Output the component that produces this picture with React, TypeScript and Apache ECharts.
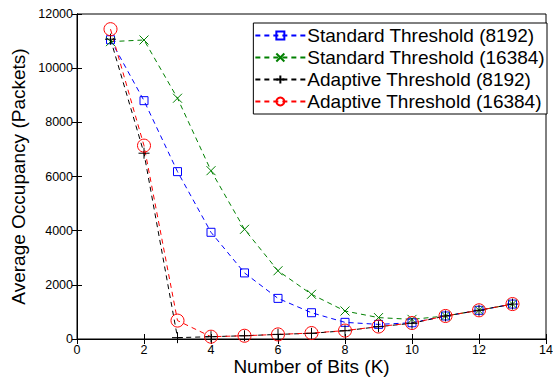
import React, { useEffect, useRef } from "react";
import * as echarts from "echarts";

const bits = [1, 2, 3, 4, 5, 6, 7, 8, 9, 10, 11, 12, 13];
const std8192 = [11050, 8800, 6180, 3940, 2440, 1500, 970, 615, 540, 600, 850, 1060, 1290];
const std16384 = [10980, 11040, 8890, 6215, 4050, 2520, 1650, 1034, 790, 725, 850, 1060, 1290];
const ada8192 = [11070, 6860, 50, 85, 120, 170, 210, 305, 455, 580, 850, 1060, 1290];
const ada16384 = [11440, 7140, 680, 85, 120, 170, 220, 310, 460, 590, 850, 1060, 1290];
const seriesNames = [
  "Standard Threshold (8192)",
  "Standard Threshold (16384)",
  "Adaptive Threshold (8192)",
  "Adaptive Threshold (16384)",
];

const FONT = "Liberation Sans, Arial, sans-serif";
const XSYM = "path://M0,0L10,10M10,0L0,10";
const PSYM = "path://M5,0L5,10M0,5L10,5";

export default function App() {
  const ref = useRef<HTMLDivElement>(null);
  useEffect(() => {
    if (!ref.current) return;
    const chart = echarts.init(ref.current, null, { renderer: "svg" });
    const mk = (name: string, data: number[], color: string, symbol: string, size: number) => ({
      name,
      type: "line",
      data: bits.map((b, i) => [b, data[i]]),
      symbol,
      symbolSize: size,
      showSymbol: true,
      lineStyle: { color, width: 1, type: [5, 4] },
      itemStyle: { color: "rgba(0,0,0,0)", borderColor: color, borderWidth: 1 },
      emphasis: { disabled: true },
    });
    chart.setOption({
      animation: false,
      textStyle: { fontFamily: FONT },
      grid: {
        left: 77, right: 7, top: 14, bottom: 38,
        show: true, borderColor: "#000", borderWidth: 1,
        outerBoundsMode: "none", containLabel: false,
      },
      legend: {
        right: 6,
        top: 23,
        orient: "vertical",
        itemWidth: 50,
        itemHeight: 10,
        itemGap: 3,
        padding: [3, 2, 3, 1],
        borderColor: "#000",
        borderWidth: 1,
        backgroundColor: "#fff",
        textStyle: { fontSize: 19, color: "#000", fontFamily: FONT, padding: [0, 0, 0, -3] },
        data: seriesNames,
      },
      xAxis: [
        {
          type: "value",
          min: 0,
          max: 14,
          interval: 2,
          name: "Number of Bits (K)",
          nameLocation: "middle",
          nameGap: 18,
          nameMoveOverlap: false,
          nameTextStyle: { fontSize: 19, color: "#000" },
          axisLine: { lineStyle: { color: "#000" } },
          axisTick: { inside: true, length: 5, lineStyle: { color: "#000" } },
          axisLabel: { fontSize: 12.5, color: "#000", margin: 4 },
          splitLine: { show: false },
        },
        {
          type: "value",
          position: "top",
          min: 0,
          max: 14,
          interval: 2,
          axisLine: { lineStyle: { color: "#000" } },
          axisTick: { inside: true, length: 5, lineStyle: { color: "#000" } },
          axisLabel: { show: false },
          splitLine: { show: false },
        },
      ],
      yAxis: [
        {
          type: "value",
          min: 0,
          max: 12000,
          interval: 2000,
          name: "Average Occupancy (Packets)",
          nameLocation: "middle",
          nameGap: 49,
          nameMoveOverlap: false,
          nameTextStyle: { fontSize: 19, color: "#000" },
          axisLine: { show: true, lineStyle: { color: "#000" } },
          axisTick: { show: true, inside: true, length: 5, lineStyle: { color: "#000" } },
          axisLabel: { fontSize: 12.5, color: "#000", margin: 4, formatter: (v: number) => String(v) },
          splitLine: { show: false },
        },
        {
          type: "value",
          position: "right",
          min: 0,
          max: 12000,
          interval: 2000,
          axisLine: { show: true, lineStyle: { color: "#000" } },
          axisTick: { show: true, inside: true, length: 5, lineStyle: { color: "#000" } },
          axisLabel: { show: false },
          splitLine: { show: false },
        },
      ],
      series: [
        mk(seriesNames[0], std8192, "#0000ff", "rect", 8),
        mk(seriesNames[1], std16384, "#008000", XSYM, 9),
        mk(seriesNames[2], ada8192, "#000000", PSYM, 11),
        mk(seriesNames[3], ada16384, "#ff0000", "circle", 13),
      ],
    });
    return () => chart.dispose();
  }, []);
  return <div ref={ref} style={{ width: 553, height: 377, position: "absolute", left: 0, top: 0 }} />;
}
